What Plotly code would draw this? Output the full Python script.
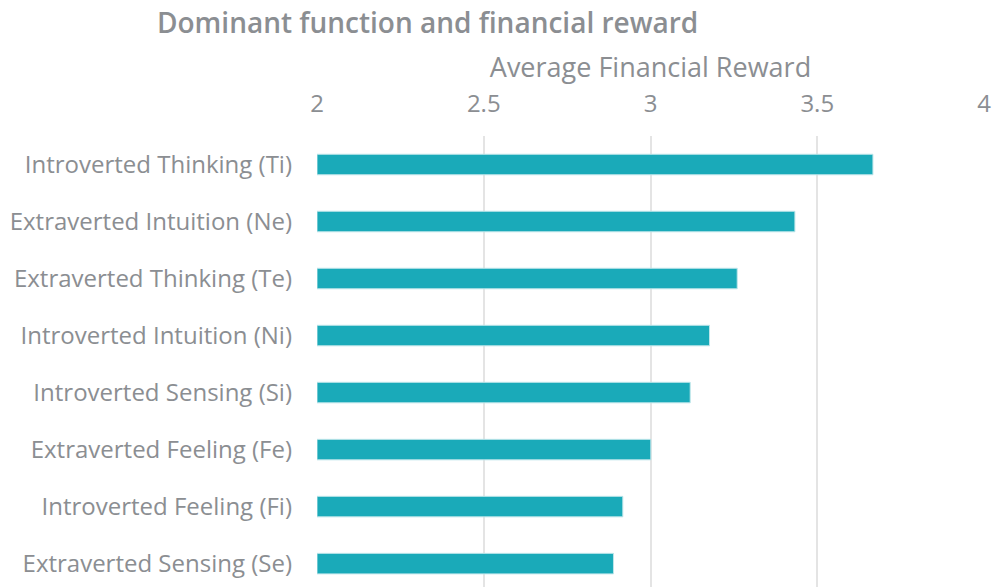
import plotly.graph_objects as go

categories = [
    "Introverted Thinking (Ti)",
    "Extraverted Intuition (Ne)",
    "Extraverted Thinking (Te)",
    "Introverted Intuition (Ni)",
    "Introverted Sensing (Si)",
    "Extraverted Feeling (Fe)",
    "Introverted Feeling (Fi)",
    "Extraverted Sensing (Se)",
]
values = [3.667, 3.433, 3.26, 3.177, 3.119, 3.001, 2.917, 2.889]
axis_min = 2
tick_vals = [2, 2.5, 3, 3.5, 4]
tick_text = ["2", "2.5", "3", "3.5", "4"]

text_color = "#8b8e92"

fig = go.Figure(
    go.Bar(
        y=categories,
        x=[v - axis_min for v in values],
        base=axis_min,
        orientation="h",
        marker=dict(color="#1aaab9", line=dict(color="#bfe6ea", width=1)),
        width=0.36,
    )
)

fig.update_layout(
    width=996,
    height=587,
    paper_bgcolor="white",
    plot_bgcolor="white",
    margin=dict(l=317, r=12, t=136, b=0),
    font=dict(family="Open Sans", color=text_color, size=24),
    title=dict(
        text="Dominant function and financial reward",
        x=157 / 996,
        xanchor="left",
        y=1 - 23 / 587,
        yanchor="middle",
        font=dict(family="Open Sans", size=28, color=text_color, weight=600),
    ),
    showlegend=False,
)
fig.update_xaxes(
    side="top",
    range=[2, 4],
    tickvals=tick_vals,
    ticktext=tick_text,
    showgrid=True,
    gridcolor="#e4e4e4",
    gridwidth=2,
    zeroline=False,
    showline=False,
    ticks="",
    ticklabelstandoff=18,
    tickfont=dict(size=24, color=text_color),
    title=dict(text="Average Financial Reward", font=dict(size=27, color=text_color), standoff=0),
    automargin=False,
)
fig.update_yaxes(
    categoryorder="array",
    categoryarray=categories,
    range=[7.41, -0.5],
    showgrid=False,
    zeroline=False,
    showline=False,
    ticks="",
    ticklabelstandoff=24,
    tickfont=dict(size=24, color=text_color),
    automargin=False,
)

fig.write_html(
    "out.html",
    config={"displayModeBar": False},
    post_script="document.body.style.margin='0';document.body.style.overflow='hidden';",
)
